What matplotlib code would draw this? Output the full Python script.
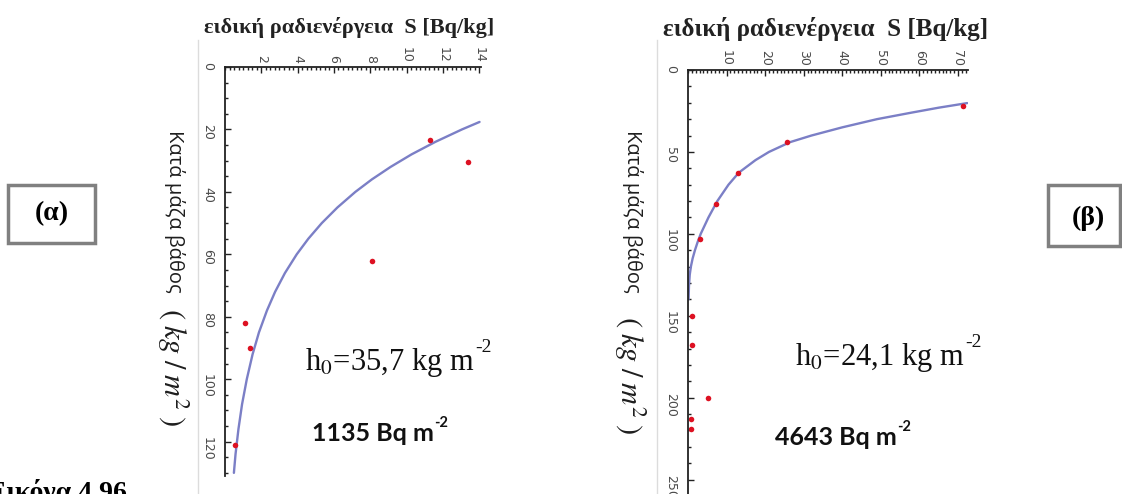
import matplotlib.pyplot as plt
from matplotlib.ticker import MultipleLocator
from matplotlib.patches import Rectangle
from matplotlib.lines import Line2D

plt.rcParams['mathtext.fontset'] = 'stix'

# (α) panel: measured points and fitted curve (S in Bq/kg, h in kg/m2)
a_s = [11.3, 13.4, 8.1, 1.1, 1.4, 0.55]
a_h = [23.4, 30.4, 62, 82, 90, 121]
a_fit_h = [17.6, 20, 24, 28, 32, 36, 40, 45, 50, 55, 60, 66, 72, 78, 85, 92,
           100, 108, 116, 124, 130]
a_fit_s = [14.02, 13.05, 11.58, 10.27, 9.12, 8.09, 7.18, 6.19, 5.33, 4.59, 3.95,
           3.30, 2.76, 2.31, 1.87, 1.52, 1.20, 0.94, 0.74, 0.58, 0.49]
a_xticks = [2, 4, 6, 8, 10, 12, 14]
a_yticks = [0, 20, 40, 60, 80, 100, 120]

# (β) panel
b_s = [71.3, 25.7, 13.0, 7.2, 3.0, 1.0, 1.0, 5.1, 0.7, 0.7]
b_h = [22, 44, 62.6, 82, 103, 150, 168, 200, 213, 219]
b_fit_h = [20.2, 23, 26, 30, 35, 40, 44, 50, 55, 62.6, 70, 80, 90, 100, 105, 110,
           115, 120, 125, 132, 140]
b_fit_s = [72.4, 65, 58, 49, 40, 32, 26.5, 21, 17.5, 13.2, 10.5, 7.6, 5.3, 3.3,
           2.5, 1.8, 1.2, 0.75, 0.45, 0.25, 0.15]
b_xticks = [10, 20, 30, 40, 50, 60, 70]
b_yticks = [0, 50, 100, 150, 200, 250]

title = "ειδική ραδιενέργεια  S [Bq/kg]"
ylab = "Κατά μάζα βάθος"
ylab_unit = r"$(\;kg\;/\;m^{2}\;)$"

W, H = 1122, 494
fig = plt.figure(figsize=(W / 100, H / 100), dpi=100)


def px_axes(l, t, r, b):
    return fig.add_axes([l / W, 1 - b / H, (r - l) / W, (b - t) / H])


def style(ax, xt, yt, xminor, yminor, xlim, ylim):
    ax.set_xlim(*xlim)
    ax.set_ylim(*ylim)
    ax.xaxis.tick_top()
    for s in ['right', 'bottom']:
        ax.spines[s].set_visible(False)
    for s in ['left', 'top']:
        ax.spines[s].set_color('#222222')
        ax.spines[s].set_linewidth(1.3)
    ax.set_xticks(xt)
    ax.set_yticks(yt)
    ax.xaxis.set_minor_locator(MultipleLocator(xminor))
    ax.yaxis.set_minor_locator(MultipleLocator(yminor))
    ax.tick_params(which='both', direction='in', color='#222222', width=1)
    ax.tick_params(which='major', length=4.5)
    ax.tick_params(which='minor', length=2.5)
    ax.tick_params(axis='x', which='major', pad=3, labelsize=9, labelcolor='#4a4a4a',
                   labelrotation=-90)
    ax.tick_params(axis='y', which='major', pad=8, labelsize=9, labelcolor='#4a4a4a',
                   labelrotation=-90)
    ax.patch.set_alpha(0)


ax1 = px_axes(225, 67, 481, 476)
ax1.plot(a_fit_s, a_fit_h, color='#7b7fc6', lw=1.7, solid_capstyle='round')
ax1.plot(a_s, a_h, 'o', color='#dd1122', ms=4, mec='none', clip_on=False)
style(ax1, a_xticks, a_yticks, 0.25, 5, (0, 14.1), (131, 0))

ax2 = px_axes(688, 70, 968, 496)
ax2.plot(b_fit_s, b_fit_h, color='#7b7fc6', lw=1.7, solid_capstyle='round')
ax2.plot(b_s, b_h, 'o', color='#dd1122', ms=4, mec='none', clip_on=False)
style(ax2, b_xticks, b_yticks, 1, 10, (0, 72.6), (260, 0))

# faint frame lines of the pasted images
for x in [198, 657]:
    fig.add_artist(Line2D([x / W, x / W], [1 - 40 / H, 0], color='#dcdcdc', lw=1))

# titles
fig.text(349 / W, 1 - 28 / H, title, ha='center', va='center', fontsize=16,
         weight='bold', family='Liberation Serif', color='#222222')
fig.text(826 / W, 1 - 29 / H, title, ha='center', va='center', fontsize=18,
         weight='bold', family='Liberation Serif', color='#222222')

# y labels
for x, y0, y1 in [(175, 130, 308), (632, 130, 316)]:
    fig.text(x / W, 1 - y0 / H, ylab, rotation=-90, ha='center', va='top',
             fontsize=14.5, family='Open Sans', color='#1e1e1e')
    fig.text((x - 2) / W, 1 - y1 / H, ylab_unit, rotation=-90, ha='center', va='top',
             fontsize=22, color='#1e1e1e')

# h0 annotations and inventories, superscript attached to the main text
notes = [(305, 370, r"h$_0$=35,7 kg m", 22, 'Liberation Serif', 'normal', 14),
         (795, 365, r"h$_0$=24,1 kg m", 22, 'Liberation Serif', 'normal', 14),
         (312, 441, "1135 Bq m", 18, 'Lato', 'bold', 10.5),
         (775, 445, "4643 Bq m", 18, 'Lato', 'bold', 10.5)]
for x, y, s, fs, fam, wt, sfs in notes:
    t = fig.text(x / W, 1 - y / H, s, fontsize=fs, weight=wt, family=fam,
                 va='baseline', color='#111111')
    ax1.annotate("-2", xy=(1, 1), xycoords=t, xytext=(0.5, -1), textcoords='offset points',
                 ha='left', va='center', fontsize=sfs, weight=wt, family=fam,
                 color='#111111', annotation_clip=False)

# panel boxes
fig.patches.append(Rectangle((8 / W, 1 - 243 / H), 87 / W, 58 / H, transform=fig.transFigure,
                             fill=False, ec='#808080', lw=2.5))
fig.text(52 / W, 1 - 214 / H, "(α)", ha='center', va='center', fontsize=20,
         weight='bold', family='Liberation Serif')
fig.patches.append(Rectangle((1048 / W, 1 - 246 / H), 72 / W, 61 / H, transform=fig.transFigure,
                             fill=False, ec='#808080', lw=2.5))
fig.text(1088 / W, 1 - 218 / H, "(β)", ha='center', va='center', fontsize=20,
         weight='bold', family='Liberation Serif')

# caption, cut at the bottom edge as in the source
fig.text(127 / W, 1 - 500 / H, "Εικόνα 4.96", ha='right', va='baseline', fontsize=20,
         weight='bold', family='Liberation Serif')

fig.savefig('out.png', dpi=100)
